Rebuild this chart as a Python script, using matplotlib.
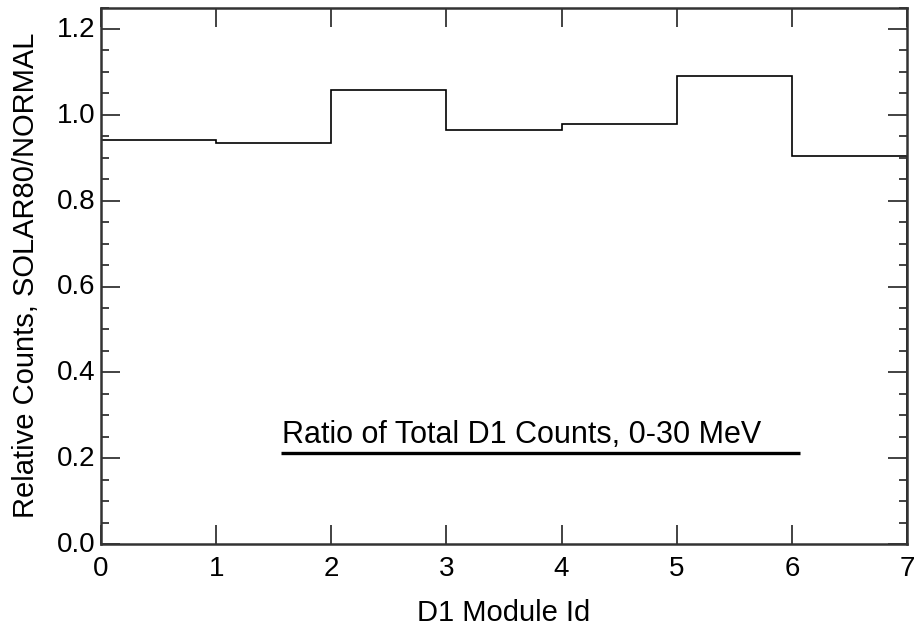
import matplotlib
matplotlib.use("Agg")
import matplotlib.pyplot as plt
import matplotlib.transforms as mtransforms
from matplotlib.ticker import MultipleLocator

plt.rcParams['font.family'] = ['Liberation Sans', 'DejaVu Sans']

module_edges = [0, 1, 2, 3, 4, 5, 6, 7]
ratio_values = [0.941, 0.9335, 1.058, 0.9645, 0.979, 1.090, 0.904]
annotation_text = "Ratio of Total D1 Counts, 0-30 MeV"
annotation_line_x = [1.56, 6.07]
annotation_line_y = [0.212, 0.212]

fig = plt.figure(figsize=(9.16, 6.31), dpi=100)
ax = fig.add_axes([0.1103, 0.1379, 0.8799, 0.8501])

ax.stairs(ratio_values, module_edges, color='black', linewidth=1.2)
ax.plot(annotation_line_x, annotation_line_y, color='black', linewidth=2.4, solid_capstyle='butt')
ax.text(1.57, 0.236, annotation_text, fontsize=22, color='black', ha='left', va='baseline')

ax.set_xlim(0, 7)
ax.set_ylim(0, 1.25)
ax.xaxis.set_major_locator(MultipleLocator(1))
ax.yaxis.set_minor_locator(MultipleLocator(0.05))
ax.set_yticks([0.0, 0.2, 0.4, 0.6, 0.8, 1.0, 1.2])
ax.set_yticklabels(['0.0', '0.2', '0.4', '0.6', '0.8', '1.0', '1.2'])

ax.tick_params(axis='both', which='both', direction='in', top=True, right=True, colors='#222222', labelcolor='black')
ax.tick_params(axis='x', which='major', length=14, width=1.2, labelsize=20, pad=9)
ax.tick_params(axis='y', which='major', length=14, width=1.2, labelsize=20, pad=4)
ax.tick_params(axis='y', which='minor', length=6, width=1.2)
for s in ax.spines.values():
    s.set_linewidth(1.8)
    s.set_color('#333333')

offset = mtransforms.ScaledTranslation(0, 1.5/72, fig.dpi_scale_trans)
for lbl in ax.get_yticklabels():
    lbl.set_transform(lbl.get_transform() + offset)

ax.set_xlabel('D1 Module Id', fontsize=21, labelpad=12)
ax.set_ylabel('Relative Counts, SOLAR80/NORMAL', fontsize=21, labelpad=12)

fig.savefig('out.png', dpi=100)
